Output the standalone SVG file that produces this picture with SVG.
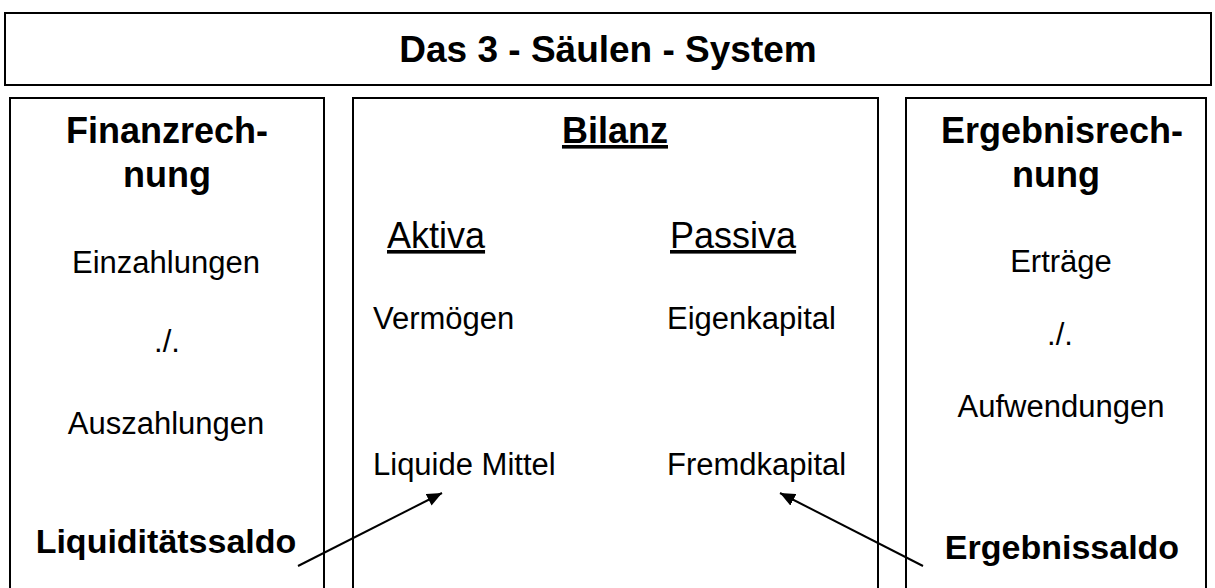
<svg xmlns="http://www.w3.org/2000/svg" width="1215" height="588" viewBox="0 0 1215 588">
<style>
.box{fill:#fff;stroke:#000;stroke-width:2}
.h{font-family:"Liberation Sans",Arial,sans-serif;font-weight:bold;font-size:36px;fill:#000;text-anchor:middle}
.t{font-family:"Liberation Sans",Arial,sans-serif;font-size:31px;fill:#000;text-anchor:middle}
.l{font-family:"Liberation Sans",Arial,sans-serif;font-size:31px;fill:#000}
.u{text-decoration:underline}
.conn{stroke:#000;stroke-width:2;fill:none}
</style>
<defs>
<marker id="ah" viewBox="0 0 10 10" refX="10" refY="5" markerWidth="15" markerHeight="13" markerUnits="userSpaceOnUse" orient="auto" preserveAspectRatio="none">
<path d="M0,0 L10,5 L0,10 z" fill="#000"/>
</marker>
</defs>
<rect width="1215" height="588" fill="#fff"/>
<g id="title">
<rect class="box" x="5" y="13" width="1206" height="72"/>
<text class="h" x="608" y="62" style="font-size:37px">Das 3 - Säulen - System</text>
</g>
<g id="finanzrechnung">
<rect class="box" x="10" y="98" width="314" height="510"/>
<text class="h" x="167" y="143">Finanzrech-</text>
<text class="h" x="167" y="187">nung</text>
<text class="t" x="166" y="273">Einzahlungen</text>
<text class="t" x="167" y="352">./.</text>
<text class="t" x="166" y="434">Auszahlungen</text>
<text class="h" x="166" y="553" style="font-size:34px">Liquiditätssaldo</text>
</g>
<g id="bilanz">
<rect class="box" x="353" y="98" width="525" height="510"/>
<text class="h u" x="615" y="143">Bilanz</text>
<text class="l u" x="387" y="248" style="font-size:36px">Aktiva</text>
<text class="l u" x="670" y="248" style="font-size:36px">Passiva</text>
<text class="l" x="373" y="329">Vermögen</text>
<text class="l" x="667" y="329">Eigenkapital</text>
<text class="l" x="373" y="475">Liquide Mittel</text>
<text class="l" x="667" y="475">Fremdkapital</text>
</g>
<g id="ergebnisrechnung">
<rect class="box" x="906" y="98" width="300" height="510"/>
<text class="h" x="1062" y="143">Ergebnisrech-</text>
<text class="h" x="1056" y="187">nung</text>
<text class="t" x="1061" y="272">Erträge</text>
<text class="t" x="1060" y="345">./.</text>
<text class="t" x="1061" y="417">Aufwendungen</text>
<text class="h" x="1062" y="559" style="font-size:34px">Ergebnissaldo</text>
</g>
<g id="connectors">
<line class="conn" x1="298" y1="566" x2="442" y2="493" marker-end="url(#ah)"/>
<line class="conn" x1="923" y1="566" x2="780" y2="493" marker-end="url(#ah)"/>
</g>
</svg>
